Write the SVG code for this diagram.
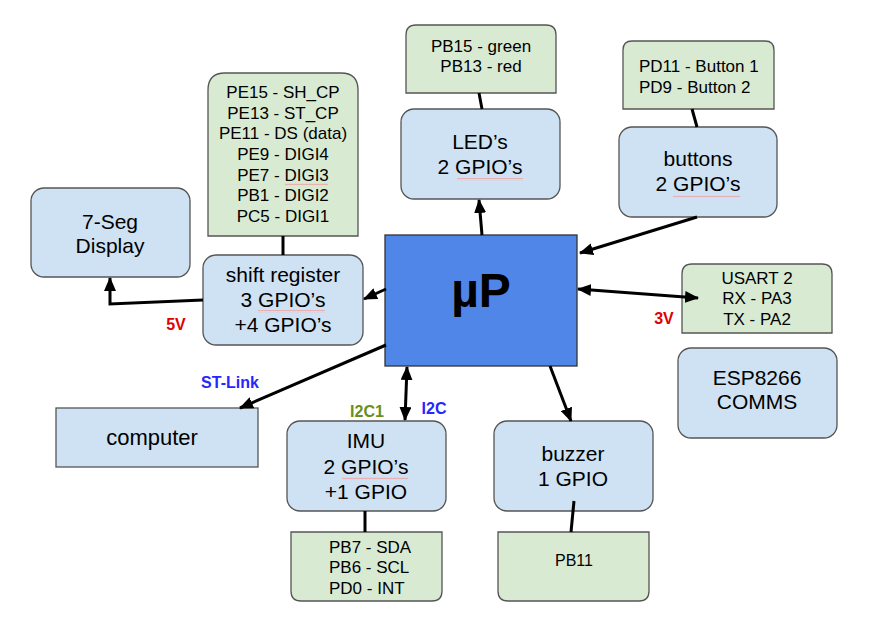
<svg xmlns="http://www.w3.org/2000/svg" width="870" height="629" viewBox="0 0 870 629">
<defs>
<marker id="ah" viewBox="0 0 14 12" markerWidth="14" markerHeight="12" refX="13" refY="6" orient="auto-start-reverse" markerUnits="userSpaceOnUse">
<path d="M0,0 L14,6 L0,12 z" fill="#000"/>
</marker>
<pattern id="wavy" width="4" height="3" patternUnits="userSpaceOnUse">
<path d="M0,2.2 L1,0.8 L2,2.2 L3,0.8 L4,2.2" fill="none" stroke="#f09a9a" stroke-width="0.7"/>
</pattern>
<style>
.blue{fill:#cfe2f3;stroke:#555;stroke-width:1.3}
.green{fill:#d9ead3;stroke:#555;stroke-width:1.3}
.t{font-family:"Liberation Sans",Arial,sans-serif;font-size:21px;fill:#000;text-anchor:middle}
.g{font-family:"Liberation Sans",Arial,sans-serif;font-size:17px;fill:#000;text-anchor:middle}
.gl{font-family:"Liberation Sans",Arial,sans-serif;font-size:17px;fill:#000}
.lbl{font-family:"Liberation Sans",Arial,sans-serif;font-size:16px;font-weight:bold;text-anchor:middle}
.w{fill:url(#wavy)}
.c{fill:none;stroke:#000;stroke-width:3}
.ca{fill:none;stroke:#000;stroke-width:3;marker-end:url(#ah)}
.cd{fill:none;stroke:#000;stroke-width:3;marker-start:url(#ah);marker-end:url(#ah)}
</style>
</defs>

<g id="seg7">
<rect class="blue" x="31" y="188" width="159" height="89" rx="13"/>
<text class="t" x="110" y="229">7-Seg</text>
<text class="t" x="110" y="253">Display</text>
</g>

<g id="shift-pins">
<path class="green" d="M208,236 V90 Q208,73 225,73 H341 Q358,73 358,90 V236 Z"/>
<text class="g" x="283" y="98">PE15 - SH_CP</text>
<text class="g" x="283" y="119">PE13 - ST_CP</text>
<text class="g" x="283" y="139">PE11 - DS (data)</text>
<text class="g" x="283" y="160">PE9 - DIGI4</text>
<text class="g" x="283" y="181">PE7 - DIGI3</text>
<text class="g" x="283" y="201">PB1 - DIGI2</text>
<text class="g" x="283" y="222">PC5 - DIGI1</text>
<rect class="w" x="285" y="183" width="43" height="3"/>
</g>

<g id="shift-register">
<rect class="blue" x="203" y="255" width="160" height="90" rx="13"/>
<text class="t" x="283" y="282">shift register</text>
<text class="t" x="283" y="307">3 GPIO’s</text>
<text class="t" x="283" y="332">+4 GPIO’s</text>
<rect class="w" x="258" y="310" width="67" height="3"/>
</g>

<g id="up">
<rect x="385" y="235" width="192" height="131" fill="#4f86e8" stroke="#333" stroke-width="1.3"/>
<text x="481" y="307" font-family="Liberation Sans,Arial,sans-serif" font-size="48" font-weight="bold" text-anchor="middle">µP</text>
</g>

<g id="led-pins">
<path class="green" d="M406,93 V35 Q406,25 416,25 H546 Q556,25 556,35 V93 Z"/>
<text class="g" x="481" y="52">PB15 - green</text>
<text class="g" x="481" y="72">PB13 - red</text>
</g>

<g id="leds">
<rect class="blue" x="401" y="109" width="159" height="90" rx="13"/>
<text class="t" x="480" y="149">LED’s</text>
<text class="t" x="480" y="174">2 GPIO’s</text>
<rect class="w" x="457" y="178" width="66" height="3"/>
</g>

<g id="button-pins">
<path class="green" d="M623,109 V50 Q623,41 632,41 H765 Q774,41 774,50 V109 Z"/>
<text class="gl" x="639" y="72">PD11 - Button 1</text>
<text class="gl" x="639" y="93">PD9 - Button 2</text>
</g>

<g id="buttons">
<rect class="blue" x="619" y="127" width="158" height="90" rx="13"/>
<text class="t" x="698" y="166">buttons</text>
<text class="t" x="698" y="191">2 GPIO’s</text>
<rect class="w" x="673" y="195" width="67" height="3"/>
</g>

<g id="usart">
<path class="green" d="M682,333 V274 Q682,264 692,264 H822 Q832,264 832,274 V333 Z"/>
<text class="g" x="757" y="284">USART 2</text>
<text class="g" x="757" y="304">RX - PA3</text>
<text class="g" x="757" y="325">TX - PA2</text>
</g>

<g id="esp8266">
<rect class="blue" x="678" y="348" width="159" height="90" rx="13"/>
<text class="t" x="757" y="385">ESP8266</text>
<text class="t" x="757" y="409">COMMS</text>
</g>

<g id="computer">
<rect class="blue" x="56" y="408" width="202" height="59"/>
<text class="t" x="152" y="445" style="font-size:22px">computer</text>
</g>

<g id="imu">
<rect class="blue" x="287" y="421" width="159" height="90" rx="13"/>
<text class="t" x="366" y="448">IMU</text>
<text class="t" x="366" y="474">2 GPIO’s</text>
<text class="t" x="366" y="499">+1 GPIO</text>
<rect class="w" x="342" y="477" width="66" height="3"/>
</g>

<g id="imu-pins">
<path class="green" d="M291,532 H442 V591 Q442,601 432,601 H301 Q291,601 291,591 Z"/>
<text class="gl" x="329" y="553">PB7 - SDA</text>
<text class="gl" x="329" y="573">PB6 - SCL</text>
<text class="gl" x="329" y="594">PD0 - INT</text>
</g>

<g id="buzzer">
<rect class="blue" x="494" y="421" width="159" height="90" rx="13"/>
<text class="t" x="573" y="461">buzzer</text>
<text class="t" x="573" y="486">1 GPIO</text>
</g>

<g id="buzzer-pins">
<path class="green" d="M498,532 H649 V591 Q649,601 639,601 H508 Q498,601 498,591 Z"/>
<text class="g" x="574" y="566" style="font-size:16px">PB11</text>
</g>

<g id="connectors">
<line class="c" x1="283" y1="236" x2="283" y2="255"/>
<polyline class="ca" points="203,300 110,304 110,278"/>
<line class="ca" x1="386" y1="289" x2="364" y2="299"/>
<line class="ca" x1="386" y1="345" x2="240" y2="408"/>
<line class="cd" x1="407" y1="367" x2="405" y2="420"/>
<line class="c" x1="365" y1="511" x2="365" y2="532"/>
<line class="ca" x1="550" y1="366" x2="571" y2="421"/>
<line class="c" x1="574" y1="501" x2="571" y2="532"/>
<line class="c" x1="479" y1="93" x2="482" y2="109"/>
<line class="ca" x1="482" y1="235" x2="479" y2="200"/>
<line class="c" x1="692" y1="109" x2="697" y2="127"/>
<line class="ca" x1="697" y1="217" x2="580" y2="253"/>
<line class="cd" x1="578" y1="289" x2="698" y2="298"/>
</g>

<g id="labels">
<text class="lbl" x="176" y="330" fill="#e00000">5V</text>
<text class="lbl" x="664" y="324" fill="#e00000">3V</text>
<text class="lbl" x="230" y="388" fill="#2626ff">ST-Link</text>
<text class="lbl" x="367" y="417" fill="#6b8e23">I2C1</text>
<text class="lbl" x="434" y="414" fill="#2626ff">I2C</text>
</g>
</svg>
